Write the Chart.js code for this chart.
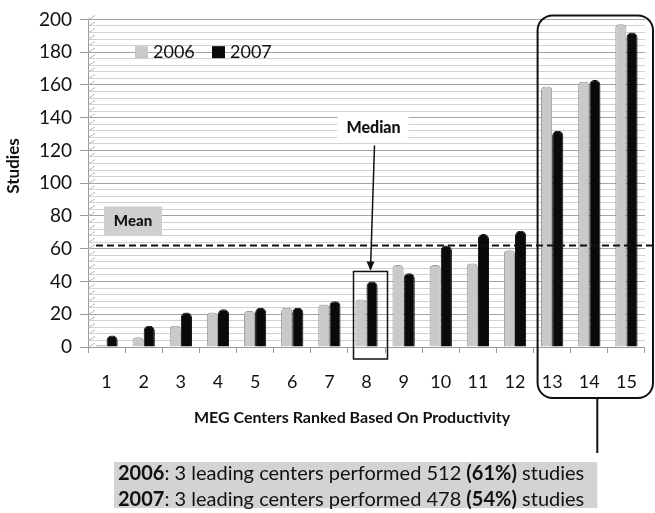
<!DOCTYPE html>
<html>
<head>
<meta charset="utf-8">
<script src="https://cdn.jsdelivr.net/npm/chart.js@4.4.0/dist/chart.umd.min.js"></script>
<style>
  html, body { margin: 0; padding: 0; background: #fff; }
  #wrap { width: 655px; height: 513px; }
</style>
</head>
<body>
<div id="wrap"><canvas id="barChart"></canvas></div>
<script>
// MEG centers ranked on productivity, studies per year
const centerLabels = ['1', '2', '3', '4', '5', '6', '7', '8', '9', '10', '11', '12', '13', '14', '15'];
const studies2006 = [1, 6, 13, 21, 22, 24, 26, 29, 50, 50, 51, 59, 159, 162, 197];
const studies2007 = [7, 13, 21, 23, 24, 24, 28, 40, 45, 62, 69, 71, 132, 163, 192];
const meanValue = 62;
const medianIndex = 7;     // center 8
const leadingStart = 12;   // centers 13-15
const summaryYears = ['2006', '2007'];
const leadingTotals = [512, 478];
const leadingShares = ['61%', '54%'];
const xTitle = 'MEG Centers Ranked Based On Productivity';
const yTitle = 'Studies';

const FONT = 'Lato, "Open Sans", sans-serif';
const gray06 = '#c9c9c9';
const black07 = '#0a0a0a';

// little diagonal strokes on the left wall, like the 3D excel chart
const wallPlugin = {
  id: 'wall',
  beforeDatasetsDraw(chart) {
    const ctx = chart.ctx;
    const ys = chart.scales.y;
    const left = chart.chartArea.left;
    ctx.save();
    ctx.strokeStyle = '#b5b5b5';
    ctx.lineWidth = 1;
    ys.ticks.forEach(t => {
      const y = ys.getPixelForValue(t.value);
      ctx.beginPath();
      ctx.moveTo(left, y);
      ctx.quadraticCurveTo(left + 3, y - 1, left + 7, y - 4);
      ctx.stroke();
    });
    ctx.restore();
  }
};

const notesPlugin = {
  id: 'notes',
  afterDatasetsDraw(chart) {
    const ctx = chart.ctx;
    const xs = chart.scales.x, ys = chart.scales.y;
    const area = chart.chartArea;
    const step = xs.getPixelForValue(1) - xs.getPixelForValue(0);
    ctx.save();

    // legend
    ctx.font = '18px ' + FONT;
    ctx.textBaseline = 'middle';
    const legY = ys.getPixelForValue(180);
    let lx = area.left + 47;
    chart.data.datasets.forEach(ds => {
      ctx.fillStyle = ds.backgroundColor;
      ctx.fillRect(lx, legY - 6, 13, 12);
      ctx.fillStyle = '#111';
      ctx.fillText(ds.label, lx + 18, legY);
      lx += 77;
    });

    // axis titles
    ctx.textAlign = 'center';
    ctx.font = 'bold 16px ' + FONT;
    ctx.fillText(xTitle, 352, ys.bottom + 71);
    ctx.save();
    ctx.translate(14, 166);
    ctx.rotate(-Math.PI / 2);
    ctx.font = 'bold 17px ' + FONT;
    ctx.fillText(yTitle, 0, 0);
    ctx.restore();

    // mean line + label
    const my = ys.getPixelForValue(meanValue);
    ctx.strokeStyle = '#111';
    ctx.lineWidth = 2;
    ctx.setLineDash([7, 4]);
    ctx.beginPath();
    ctx.moveTo(area.left + 8, my);
    ctx.lineTo(chart.width, my);
    ctx.stroke();
    ctx.setLineDash([]);
    ctx.fillStyle = '#cfcfcf';
    ctx.fillRect(area.left + 16, my - 39, 58, 29);
    ctx.fillStyle = '#111';
    ctx.font = '900 15px ' + FONT;
    ctx.fillText('Mean', area.left + 45, my - 24);

    // median box, arrow and label
    const cx = xs.getPixelForValue(medianIndex);
    const boxTop = ys.getPixelForValue(studies2007[medianIndex]) - 10;
    const boxBot = ys.bottom + 12;
    ctx.lineWidth = 1.5;
    ctx.strokeRect(cx - 13, boxTop, 34, boxBot - boxTop);
    const labY = ys.getPixelForValue(134);
    ctx.fillStyle = '#fff';
    ctx.fillRect(cx - 29, labY - 12, 71, 23);
    ctx.fillStyle = '#111';
    ctx.font = '900 16px ' + FONT;
    ctx.fillText('Median', cx + 7, labY);
    ctx.beginPath();
    ctx.moveTo(cx + 8, labY + 18);
    ctx.lineTo(cx + 4, boxTop - 2);
    ctx.stroke();
    ctx.beginPath();
    ctx.moveTo(cx + 4, boxTop - 1);
    ctx.lineTo(cx, boxTop - 10);
    ctx.lineTo(cx + 8, boxTop - 10);
    ctx.closePath();
    ctx.fill();

    // rounded frame around leading centers
    const fl = xs.getPixelForValue(leadingStart) - step / 2 + 4;
    const fr = chart.width - 2;
    const ft = area.top - 4;
    const fb = ys.bottom + 51;
    ctx.lineWidth = 2;
    ctx.beginPath();
    ctx.roundRect(fl, ft, fr - fl, fb - ft, 15);
    ctx.stroke();
    const linkX = (fl + fr) / 2 + 2;
    ctx.beginPath();
    ctx.moveTo(linkX, fb);
    ctx.lineTo(linkX, fb + 55);
    ctx.stroke();

    // summary box
    const bx = 114, by = fb + 64;
    ctx.fillStyle = '#d3d3d3';
    ctx.fillRect(bx, by, linkX - bx, 46);
    ctx.textAlign = 'left';
    summaryYears.forEach((yr, i) => {
      const parts = [
        [yr, 'bold'],
        [': 3 leading centers performed ' + leadingTotals[i] + ' ', 'normal'],
        ['(' + leadingShares[i] + ')', 'bold'],
        [' studies', 'normal']
      ];
      let tx = bx + 4;
      const ty = by + 12 + i * 26;
      parts.forEach(([txt, w]) => {
        ctx.font = w + ' 20px ' + FONT;
        ctx.fillStyle = '#111';
        ctx.fillText(txt, tx, ty);
        tx += ctx.measureText(txt).width;
      });
    });
    ctx.restore();
  }
};

new Chart(document.getElementById('barChart'), {
  type: 'bar',
  data: {
    labels: centerLabels,
    datasets: [
      {
        label: '2006',
        data: studies2006,
        backgroundColor: gray06,
        borderColor: '#9a9a9a',
        borderWidth: 1,
        borderRadius: { topLeft: 4, topRight: 4 },
        barPercentage: 1.0,
        categoryPercentage: 0.6
      },
      {
        label: '2007',
        data: studies2007,
        backgroundColor: black07,
        borderColor: black07,
        borderWidth: 1,
        borderRadius: { topLeft: 5, topRight: 5 },
        barPercentage: 1.0,
        categoryPercentage: 0.6
      }
    ]
  },
  options: {
    responsive: true,
    maintainAspectRatio: false,
    animation: false,
    layout: { padding: { left: 0, right: 4, top: 15, bottom: 0 } },
    plugins: {
      legend: { display: false },
      tooltip: { enabled: false }
    },
    scales: {
      x: {
        afterFit(scale) { scale.height = 166; },
        grid: { display: true, drawOnChartArea: false, tickLength: 6, color: '#9a9a9a' },
        border: { color: '#9a9a9a' },
        ticks: { color: '#111', font: { family: FONT, size: 18 }, padding: 18 }
      },
      y: {
        min: 0,
        max: 200,
        afterFit(scale) { scale.width = 88; },
        border: { color: '#9a9a9a' },
        grid: {
          color: c => (c.tick && c.tick.value % 20 === 0) ? '#a3a3a3' : '#d2d2d2',
          tickColor: c => (c.tick && c.tick.value % 20 === 0) ? '#9a9a9a' : 'rgba(0,0,0,0)',
          tickLength: 8
        },
        ticks: {
          stepSize: 4,
          autoSkip: false,
          padding: 8,
          color: '#111',
          font: { family: FONT, size: 19 },
          callback: v => (v % 20 === 0 ? v : '')
        }
      }
    }
  },
  plugins: [wallPlugin, notesPlugin]
});
</script>
</body>
</html>
